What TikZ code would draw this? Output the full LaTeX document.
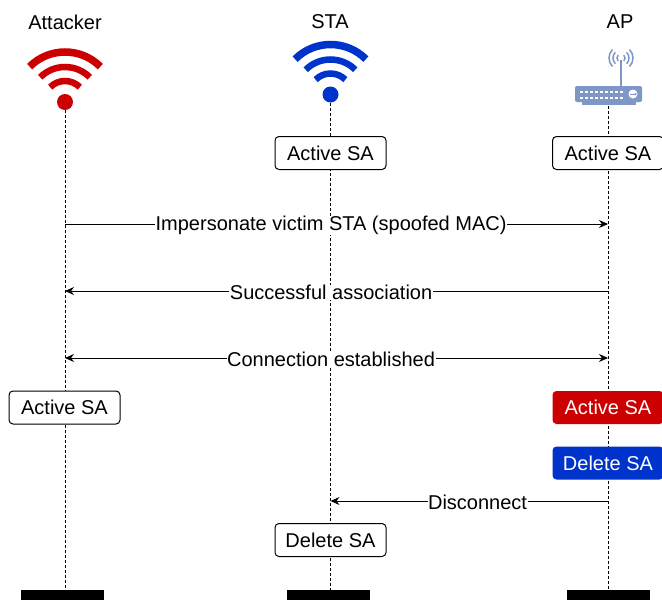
\documentclass[tikz,border=0pt]{standalone}
\usepackage{fontspec}
\setmainfont{Liberation Sans}
\usetikzlibrary{arrows.meta}
\definecolor{attackred}{HTML}{CC0000}
\definecolor{stablue}{HTML}{0033CC}
\definecolor{routerblue}{HTML}{7F97C6}
\tikzset{
  sabox/.style={draw,rounded corners=4pt,line width=1pt,minimum width=111pt,minimum height=33pt,inner sep=0pt,fill=white,font=\fontsize{20}{22}\selectfont},
  lifeend/.style={fill=black,minimum width=83pt,minimum height=10pt,inner sep=0pt},
  lifeline/.style={densely dashed,line width=0.8pt},
  msg/.style={line width=1pt,-{Stealth[length=9pt,width=8pt]}},
  msglabel/.style={fill=white,inner sep=0.5pt,yshift=-1.5pt,font=\fontsize{20}{22}\selectfont},
  headlabel/.style={font=\fontsize{20}{22}\selectfont},
  pics/wifi/.style={code={
    \fill[#1] (0,0) circle (8pt);
    \foreach \r/\w in {21/6.5,35/6.5,50/7.5} {
      \draw[#1,line width=\w pt] (45:\r pt) arc[start angle=45,end angle=135,radius=\r pt];
    }
  }}
}
\begin{document}
\begin{tikzpicture}[x=1pt,y=-1pt]
  \useasboundingbox (0,0) rectangle (662,600);

  % heads
  \node[headlabel] (attacker) at (65,22) {Attacker};
  \node[headlabel] (sta) at (330,22) {STA};
  \node[headlabel] (ap) at (620,22) {AP};

  \pic at (65,102) {wifi=attackred};
  \pic at (330.5,94.5) {wifi=stablue};

  % router
  \draw[routerblue,line width=2pt] (621,87) -- (621,60);
  \foreach \r in {4,8,12} {
    \draw[routerblue,line width=1.5pt] (621,58) ++(-45:\r pt) arc[start angle=-45,end angle=45,radius=\r pt];
    \draw[routerblue,line width=1.5pt] (621,58) ++(135:\r pt) arc[start angle=135,end angle=225,radius=\r pt];
  }
  \fill[routerblue] (582,101) rectangle (636,105);
  \fill[routerblue,rounded corners=2pt] (575,86) rectangle (642,102);
  \foreach \y in {91,97} {
    \foreach \x in {580,585,...,620} {
      \fill[white] (\x,\y) rectangle ++(2.5,1.5);
    }
  }
  \fill[white] (633,94) circle (4.5pt);
  \draw[routerblue,line width=0.8pt,-{Stealth[length=2.5pt,width=3pt]}] (630,94) -- (637,94);

  % life lines
  \coordinate (attackertop) at (65,110);
  \coordinate (statop) at (330.5,103);
  \coordinate (aptop) at (608,106);
  \node[lifeend] (attackerend) at (62.5,595) {};
  \node[lifeend] (staend) at (328.5,595) {};
  \node[lifeend] (apend) at (608.5,595) {};
  \draw[lifeline] (attackertop) -- (65,590);
  \draw[lifeline] (statop) -- (330.5,590);
  \draw[lifeline] (aptop) -- (608,590);

  % security associations
  \node[sabox] (staactive) at (330.5,153) {Active SA};
  \node[sabox] (apactive) at (608,153) {Active SA};
  \node[sabox] (attackeractive) at (64.5,407.5) {Active SA};
  \node[sabox,draw=none,fill=attackred,text=white] (apred) at (608,407.5) {Active SA};
  \node[sabox,draw=none,fill=stablue,text=white] (apblue) at (608,463) {Delete SA};
  \node[sabox] (stadelete) at (330.5,540) {Delete SA};

  % messages
  \coordinate (a1) at (65,224);
  \coordinate (p1) at (608,224);
  \coordinate (a2) at (65,291);
  \coordinate (p2) at (608,291);
  \coordinate (a3) at (65,358);
  \coordinate (p3) at (608,358);
  \coordinate (s4) at (330.5,501);
  \coordinate (p4) at (608,501);
  \draw[msg] (a1) -- (p1) node[msglabel,pos=0.49] (m1) {Impersonate victim STA (spoofed MAC)};
  \draw[msg] (p2) -- (a2) node[msglabel,pos=0.51] (m2) {Successful association};
  \draw[msg,{Stealth[length=9pt,width=8pt]}-{Stealth[length=9pt,width=8pt]}] (a3) -- (p3) node[msglabel,pos=0.49] (m3) {Connection established};
  \draw[msg] (p4) -- (s4) node[msglabel,pos=0.47] (m4) {Disconnect};
\end{tikzpicture}
\end{document}
